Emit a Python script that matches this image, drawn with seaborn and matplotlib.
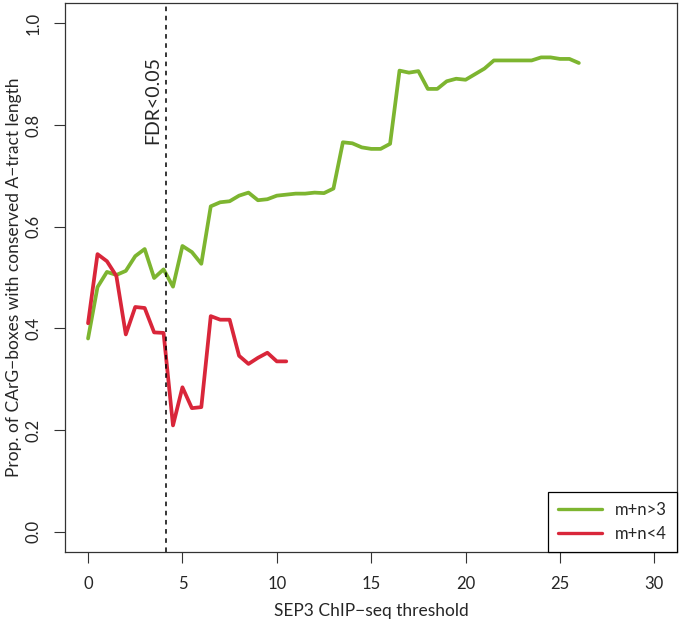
import numpy as np
import pandas as pd
import matplotlib
matplotlib.use("Agg")
import matplotlib.pyplot as plt
import seaborn as sns

# SEP3 ChIP-seq thresholds (step 0.5)
thr_long = np.arange(0, 26.5, 0.5)
thr_short = np.arange(0, 11.0, 0.5)

# proportion of CArG-boxes with conserved A-tract, m+n>3
prop_long = [0.380, 0.481, 0.511, 0.505, 0.513, 0.542, 0.556, 0.499, 0.516, 0.482,
             0.562, 0.550, 0.527, 0.640, 0.648, 0.650, 0.661, 0.667, 0.652, 0.654,
             0.661, 0.663, 0.665, 0.665, 0.667, 0.666, 0.675, 0.766, 0.764, 0.756,
             0.753, 0.753, 0.763, 0.907, 0.903, 0.906, 0.871, 0.871, 0.886, 0.891,
             0.889, 0.900, 0.911, 0.927, 0.927, 0.927, 0.927, 0.927, 0.933, 0.933,
             0.930, 0.930, 0.922]
# m+n<4
prop_short = [0.410, 0.546, 0.532, 0.503, 0.388, 0.442, 0.440, 0.392, 0.391, 0.209,
              0.284, 0.243, 0.245, 0.424, 0.417, 0.417, 0.346, 0.330, 0.342, 0.352,
              0.335, 0.335]

groups = ["m+n>3", "m+n<4"]
colors = ["#7db530", "#d9263a"]
fdr_cut = 4.13

df = pd.concat([
    pd.DataFrame({"threshold": thr_long, "prop": prop_long, "group": groups[0]}),
    pd.DataFrame({"threshold": thr_short, "prop": prop_short, "group": groups[1]}),
])

sns.set_style("ticks")
plt.rcParams["font.family"] = ["Lato", "DejaVu Sans"]

fig = plt.figure(figsize=(6.83, 6.26), dpi=100)
ax = fig.add_axes([65.4 / 683, 74 / 626, (677 - 65.4) / 683, (552 - 3) / 626])

sns.lineplot(data=df, x="threshold", y="prop", hue="group", hue_order=groups,
             palette=colors, linewidth=2.7, ax=ax, estimator=None, sort=False)

ax.axvline(fdr_cut, color="black", linestyle=(0, (3, 3)), linewidth=1.1)
ax.text(fdr_cut - 0.7, 0.85, "FDR<0.05", rotation=90, ha="center", va="center",
        fontsize=14)

ax.set_xlim(-1.2, 31.2)
ax.set_ylim(-0.04, 1.04)
ax.set_xticks([0, 5, 10, 15, 20, 25, 30])
ax.set_yticks([0.0, 0.2, 0.4, 0.6, 0.8, 1.0])
ax.set_yticklabels(["0.0", "0.2", "0.4", "0.6", "0.8", "1.0"], rotation=90, va="center")
ax.tick_params(axis="both", length=8, width=0.8, labelsize=12, color="#333333", pad=9)
ax.set_xlabel("SEP3 ChIP\u2212seq threshold", fontsize=12.5)
ax.set_ylabel("Prop. of CArG\u2212boxes with conserved A\u2212tract length", fontsize=12.5)
ax.xaxis.set_label_coords(0.5, -51 / 549, transform=ax.transAxes)
ax.yaxis.set_label_coords(-43 / 611, 0.5, transform=ax.transAxes)
for s in ax.spines.values():
    s.set_linewidth(0.9)
    s.set_color("#333333")

leg = ax.legend(loc="lower right", borderaxespad=0, fontsize=12, handlelength=2.6,
                fancybox=False, framealpha=1, borderpad=0.6, labelspacing=0.5,
                handletextpad=0.8)
leg.get_frame().set_edgecolor("black")
leg.get_frame().set_linewidth(0.9)
for h in leg.get_lines():
    h.set_linewidth(2.4)

fig.savefig("out.png", dpi=100)
